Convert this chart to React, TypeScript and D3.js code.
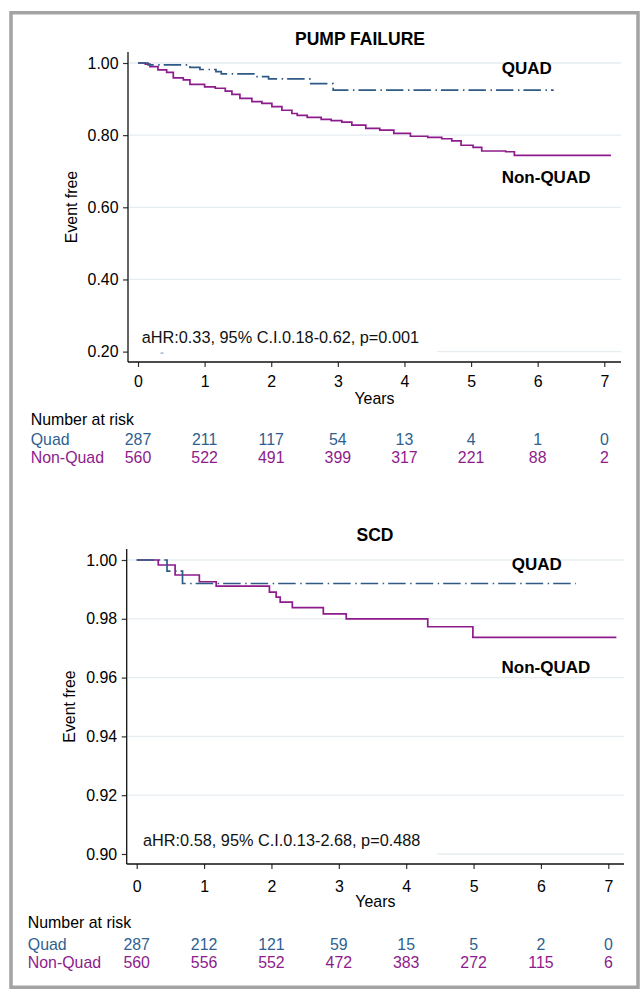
import { useEffect, useRef } from 'react'
import * as d3 from 'd3'

// x axis (years) and risk-table columns
const years = [0, 1, 2, 3, 4, 5, 6, 7]

// PUMP FAILURE – Kaplan-Meier steps
const pumpQuadTime = [0, 0.15, 0.78, 0.93, 1.17, 1.25, 1.74, 1.96, 2.58, 2.93, 6.24]
const pumpQuadSurv = [1.0, 0.995, 0.988, 0.982, 0.976, 0.97, 0.962, 0.956, 0.943, 0.925, 0.925]
const pumpNonTime = [
  0, 0.11, 0.18, 0.3, 0.43, 0.53, 0.68, 0.78, 1.0, 1.16, 1.31, 1.41, 1.53, 1.71, 1.86, 2.01, 2.16,
  2.31, 2.39, 2.54, 2.75, 2.9, 3.06, 3.21, 3.42, 3.63, 3.84, 4.09, 4.35, 4.56, 4.71, 4.85, 5.03,
  5.16, 5.52, 5.65, 7.1,
]
const pumpNonSurv = [
  1.0, 0.997, 0.99, 0.981, 0.974, 0.959, 0.953, 0.941, 0.934, 0.93, 0.922, 0.913, 0.902, 0.893,
  0.888, 0.879, 0.869, 0.86, 0.855, 0.849, 0.844, 0.84, 0.836, 0.828, 0.819, 0.814, 0.805, 0.797,
  0.794, 0.79, 0.784, 0.772, 0.766, 0.756, 0.754, 0.744, 0.744,
]
const pumpRiskQuad = [287, 211, 117, 54, 13, 4, 1, 0]
const pumpRiskNon = [560, 522, 491, 399, 317, 221, 88, 2]
const pumpYTicks = [0.2, 0.4, 0.6, 0.8, 1.0]
const pumpNote = 'aHR:0.33, 95% C.I.0.18-0.62, p=0.001'

// SCD
const scdQuadTime = [0, 0.45, 0.68, 6.52]
const scdQuadSurv = [1.0, 0.9962, 0.992, 0.992]
const scdNonTime = [0, 0.32, 0.57, 0.93, 1.18, 1.97, 2.07, 2.13, 2.31, 2.77, 3.11, 4.32, 4.99, 7.12]
const scdNonSurv = [
  1.0, 0.9983, 0.9949, 0.9926, 0.9911, 0.9891, 0.9874, 0.9857, 0.9838, 0.9817, 0.98, 0.9773,
  0.9737, 0.9737,
]
const scdRiskQuad = [287, 212, 121, 59, 15, 5, 2, 0]
const scdRiskNon = [560, 556, 552, 472, 383, 272, 115, 6]
const scdYTicks = [0.9, 0.92, 0.94, 0.96, 0.98, 1.0]
const scdNote = 'aHR:0.58, 95% C.I.0.13-2.68, p=0.488'

const groupNames = ['Quad', 'Non-Quad']
const curveLabels = ['QUAD', 'Non-QUAD']

const BLUE = '#2f5a86'
const PURPLE = '#8d1b8c'
const FONT = "'Liberation Sans', Arial, Helvetica, sans-serif"
const TXT = '15.9px'

interface Panel {
  title: string
  titleX: number
  titleY: number
  left: number
  right: number
  top: number
  bottom: number
  x0: number
  x7: number
  yDomain: [number, number]
  yLow: number
  yHigh: number
  yTicks: number[]
  quad: [number, number][]
  non: [number, number][]
  quadLabel: [number, number]
  nonLabel: [number, number]
  note: string
  noteX: number
  noteY: number
  yTitleX: number
  tickBase: number
  yearsBase: number
  riskX: number
  riskBase: number[]
  riskQuad: number[]
  riskNon: number[]
  blip?: boolean
}

const zip = (t: number[], s: number[]) => t.map((v, i) => [v, s[i]] as [number, number])

function drawPanel(svg: d3.Selection<SVGSVGElement, unknown, null, undefined>, p: Panel) {
  const g = svg.append('g')
  const x = d3.scaleLinear().domain([0, 7]).range([p.x0, p.x7])
  const y = d3.scaleLinear().domain(p.yDomain).range([p.yLow, p.yHigh])

  // grid
  g.selectAll('.grid')
    .data(p.yTicks)
    .enter()
    .append('line')
    .attr('x1', p.left + 1)
    .attr('x2', p.right)
    .attr('y1', (d) => y(d))
    .attr('y2', (d) => y(d))
    .attr('stroke', '#e6edf1')
    .attr('stroke-width', 1.3)

  // note box hides the lowest grid line on the left
  g.append('rect')
    .attr('x', p.left + 1)
    .attr('y', p.noteY - 18)
    .attr('width', 437 - p.left - 1)
    .attr('height', p.bottom - p.noteY + 17)
    .attr('fill', '#fff')
  g.append('text')
    .attr('x', p.noteX)
    .attr('y', p.noteY)
    .attr('fill', '#111')
    .style('font-family', FONT)
    .style('font-size', '16.3px')
    .text(p.note)
  if (p.blip) {
    g.append('line')
      .attr('x1', 160.5)
      .attr('x2', 163.5)
      .attr('y1', y(p.yTicks[0]) + 1.5)
      .attr('y2', y(p.yTicks[0]) + 1.5)
      .attr('stroke', '#7390ad')
      .attr('stroke-width', 1)
  }

  // curves
  const line = d3
    .line<[number, number]>()
    .x((d) => x(d[0]))
    .y((d) => y(d[1]))
    .curve(d3.curveStepAfter)
  g.append('path')
    .datum(p.non)
    .attr('fill', 'none')
    .attr('stroke', PURPLE)
    .attr('stroke-width', 1.7)
    .attr('d', line)
  g.append('path')
    .datum(p.quad)
    .attr('fill', 'none')
    .attr('stroke', BLUE)
    .attr('stroke-width', 1.7)
    .attr('stroke-dasharray', '17.5,4.5,1.5,4')
    .attr('d', line)

  // curve labels
  g.append('text')
    .attr('x', p.quadLabel[0])
    .attr('y', p.quadLabel[1])
    .attr('fill', '#000')
    .style('font-family', FONT)
    .style('font-size', '17px')
    .style('font-weight', 'bold')
    .text(curveLabels[0])
  g.append('text')
    .attr('x', p.nonLabel[0])
    .attr('y', p.nonLabel[1])
    .attr('fill', '#000')
    .style('font-family', FONT)
    .style('font-size', '17px')
    .style('font-weight', 'bold')
    .text(curveLabels[1])

  // title
  g.append('text')
    .attr('x', p.titleX)
    .attr('y', p.titleY)
    .attr('text-anchor', 'middle')
    .attr('fill', '#000')
    .style('font-family', FONT)
    .style('font-size', '17.5px')
    .style('font-weight', 'bold')
    .text(p.title)

  // x axis
  g.append('g')
    .attr('transform', `translate(0,${p.bottom})`)
    .call(d3.axisBottom(x).tickValues(years).tickSize(5).tickSizeOuter(0).tickFormat(d3.format('d')))
    .call((a) => {
      a.select('.domain').remove()
      a.selectAll('.tick line').attr('stroke', '#333').attr('stroke-width', 1.2)
      a.selectAll('.tick text')
        .attr('y', p.tickBase - p.bottom)
        .attr('dy', 0)
        .attr('fill', '#000')
        .style('font-family', FONT)
        .style('font-size', TXT)
    })

  // y axis
  g.append('g')
    .attr('transform', `translate(${p.left},0)`)
    .call(d3.axisLeft(y).tickValues(p.yTicks).tickSize(5).tickPadding(4.5).tickFormat(d3.format('.2f')))
    .call((a) => {
      a.select('.domain').remove()
      a.selectAll('.tick line').attr('stroke', '#333').attr('stroke-width', 1.2)
      a.selectAll('.tick text')
        .attr('fill', '#000')
        .style('font-family', FONT)
        .style('font-size', TXT)
    })

  // axis lines
  g.append('line')
    .attr('x1', p.left)
    .attr('x2', p.left)
    .attr('y1', p.top)
    .attr('y2', p.bottom)
    .attr('stroke', '#111')
    .attr('stroke-width', 1.3)
  g.append('line')
    .attr('x1', p.left)
    .attr('x2', p.right)
    .attr('y1', p.bottom)
    .attr('y2', p.bottom)
    .attr('stroke', '#111')
    .attr('stroke-width', 1.3)

  // axis titles
  g.append('text')
    .attr('transform', `translate(${p.yTitleX},${(p.top + p.bottom) / 2}) rotate(-90)`)
    .attr('text-anchor', 'middle')
    .attr('fill', '#000')
    .style('font-family', FONT)
    .style('font-size', TXT)
    .text('Event free')
  g.append('text')
    .attr('x', (p.left + p.right) / 2)
    .attr('y', p.yearsBase)
    .attr('text-anchor', 'middle')
    .attr('fill', '#000')
    .style('font-family', FONT)
    .style('font-size', TXT)
    .text('Years')

  // number at risk
  g.append('text')
    .attr('x', p.riskX)
    .attr('y', p.riskBase[0])
    .attr('fill', '#000')
    .style('font-family', FONT)
    .style('font-size', TXT)
    .text('Number at risk')
  const rows = [
    { name: groupNames[0], vals: p.riskQuad, color: '#2f5f8f', base: p.riskBase[1] },
    { name: groupNames[1], vals: p.riskNon, color: PURPLE, base: p.riskBase[2] },
  ]
  rows.forEach((r) => {
    g.append('text')
      .attr('x', p.riskX)
      .attr('y', r.base)
      .attr('fill', r.color)
      .style('font-family', FONT)
      .style('font-size', TXT)
      .text(r.name)
    g.selectAll(null)
      .data(r.vals)
      .enter()
      .append('text')
      .attr('x', (_d, i) => x(years[i]))
      .attr('y', r.base)
      .attr('text-anchor', 'middle')
      .attr('fill', r.color)
      .style('font-family', FONT)
      .style('font-size', TXT)
      .text((d) => `${d}`)
  })
}

export default function App() {
  const svgRef = useRef<SVGSVGElement>(null)

  useEffect(() => {
    const svg = d3.select(svgRef.current as SVGSVGElement)
    svg.selectAll('*').remove()

    // outer frame
    svg
      .append('rect')
      .attr('x', 11)
      .attr('y', 12.75)
      .attr('width', 627)
      .attr('height', 974.5)
      .attr('fill', '#fff')
      .attr('stroke', '#a3a3a3')
      .attr('stroke-width', 3.5)

    drawPanel(svg, {
      title: 'PUMP FAILURE',
      titleX: 360,
      titleY: 45,
      left: 128,
      right: 621,
      top: 52,
      bottom: 362,
      x0: 138,
      x7: 604.3,
      yDomain: [0.2, 1.0],
      yLow: 351.6,
      yHigh: 63,
      yTicks: pumpYTicks,
      quad: zip(pumpQuadTime, pumpQuadSurv),
      non: zip(pumpNonTime, pumpNonSurv),
      quadLabel: [501.7, 74],
      nonLabel: [501.7, 183.3],
      note: pumpNote,
      noteX: 141.7,
      noteY: 342.7,
      yTitleX: 76.7,
      tickBase: 387.3,
      yearsBase: 404,
      riskX: 30.7,
      riskBase: [425, 445, 462.7],
      riskQuad: pumpRiskQuad,
      riskNon: pumpRiskNon,
      blip: true,
    })

    drawPanel(svg, {
      title: 'SCD',
      titleX: 375,
      titleY: 541,
      left: 126.7,
      right: 624,
      top: 549,
      bottom: 864,
      x0: 136.7,
      x7: 608.3,
      yDomain: [0.9, 1.0],
      yLow: 854,
      yHigh: 560,
      yTicks: scdYTicks,
      quad: zip(scdQuadTime, scdQuadSurv),
      non: zip(scdNonTime, scdNonSurv),
      quadLabel: [511.8, 570],
      nonLabel: [501.5, 673],
      note: scdNote,
      noteX: 143,
      noteY: 846,
      yTitleX: 75,
      tickBase: 891.7,
      yearsBase: 907.3,
      riskX: 27.8,
      riskBase: [928, 950, 968.3],
      riskQuad: scdRiskQuad,
      riskNon: scdRiskNon,
    })
  }, [])

  return (
    <svg
      ref={svgRef}
      width={641}
      height={990}
      style={{ position: 'absolute', left: 0, top: 0, background: '#fff' }}
    />
  )
}
